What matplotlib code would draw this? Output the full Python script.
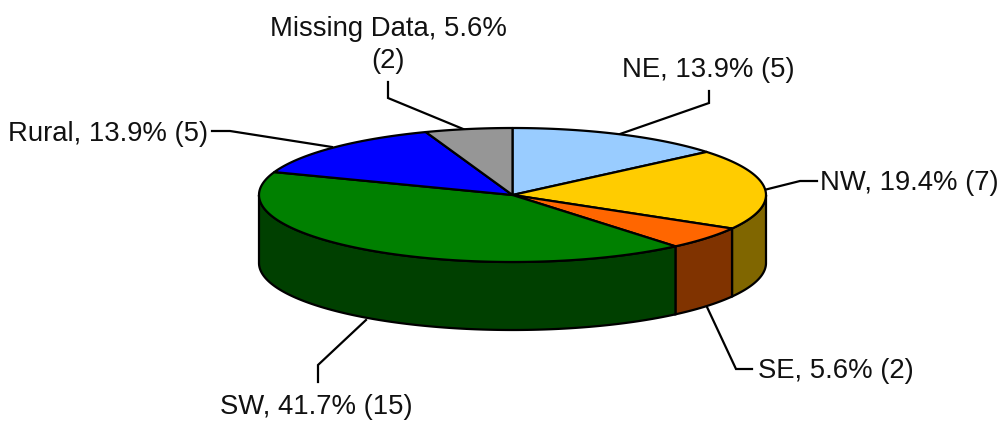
import matplotlib

matplotlib.use("Agg")

import matplotlib.pyplot as plt
import numpy as np
from matplotlib.patches import Polygon

regions = ["NE", "NW", "SE", "SW", "Rural", "Missing Data"]
counts = [5, 7, 2, 15, 5, 2]
percents = [13.9, 19.4, 5.6, 41.7, 13.9, 5.6]
top_colors = ["#99CCFF", "#FFCC00", "#FF6600", "#008000", "#0000FF", "#969696"]
side_colors = ["#4D6680", "#806600", "#803300", "#004000", "#000080", "#4B4B4B"]

# pie geometry in pixels of the 1001x421 canvas
CX, CY = 512.5, 195.0
RX, RY = 253.5, 67.0
DEPTH = 68.0
EDGE = 1.6

# label anchor and leader line for each region
label_pos = {
    "NE": (708, 70, "center"),
    "NW": (820, 183, "left"),
    "SE": (758, 371, "left"),
    "SW": (316, 407, "center"),
    "Rural": (208, 134, "right"),
    "Missing Data": (388, 45, "center"),
}
leaders = {
    "NE": [(709, 91), (709, 103), (620, 134)],
    "NW": [(817, 181), (800, 181), (764, 190)],
    "SE": [(752, 369), (736, 369), (707, 307)],
    "SW": [(318, 382), (318, 365), (366, 320)],
    "Rural": [(212, 131), (230, 131), (332, 147)],
    "Missing Data": [(388, 82), (388, 98), (468, 131)],
}


def rim(start, end, drop=0.0):
    t = np.radians(np.linspace(start, end, max(int(abs(end - start)) * 2, 2)))
    return np.column_stack([CX + RX * np.sin(t), CY + drop - RY * np.cos(t)])


plt.rcParams["font.family"] = ["Liberation Sans", "DejaVu Sans"]
fig = plt.figure(figsize=(10.01, 4.21), dpi=100)
ax = fig.add_axes([0, 0, 1, 1])
ax.set_xlim(0, 1001)
ax.set_ylim(421, 0)
ax.axis("off")

edges = np.concatenate([[0], np.cumsum(counts)]) / sum(counts) * 360

# leader lines go under the pie
for name in regions:
    xs, ys = zip(*leaders[name])
    ax.plot(xs, ys, color="black", lw=EDGE, solid_joinstyle="miter", zorder=1)

# front wall, only the part from 90 to 270 degrees shows
for i in range(len(regions)):
    start, end = max(edges[i], 90), min(edges[i + 1], 270)
    if start >= end:
        continue
    wall = np.vstack([rim(start, end), rim(start, end, DEPTH)[::-1]])
    ax.add_patch(Polygon(wall, closed=True, facecolor=side_colors[i], edgecolor="black", lw=EDGE, zorder=2))

# top face
for i in range(len(regions)):
    wedge = np.vstack([[CX, CY], rim(edges[i], edges[i + 1])])
    ax.add_patch(Polygon(wedge, closed=True, facecolor=top_colors[i], edgecolor="black", lw=EDGE, joinstyle="round", zorder=3))

for name, pct, n in zip(regions, percents, counts):
    x, y, ha = label_pos[name]
    text = f"{name}, {pct}% ({n})"
    if name == "Missing Data":
        text = f"{name}, {pct}%\n({n})"
    ax.text(x, y, text, fontsize=19.8, ha=ha, va="center", color="#111111", linespacing=1.3, zorder=4)

fig.savefig("out.png", dpi=100)
plt.close(fig)
